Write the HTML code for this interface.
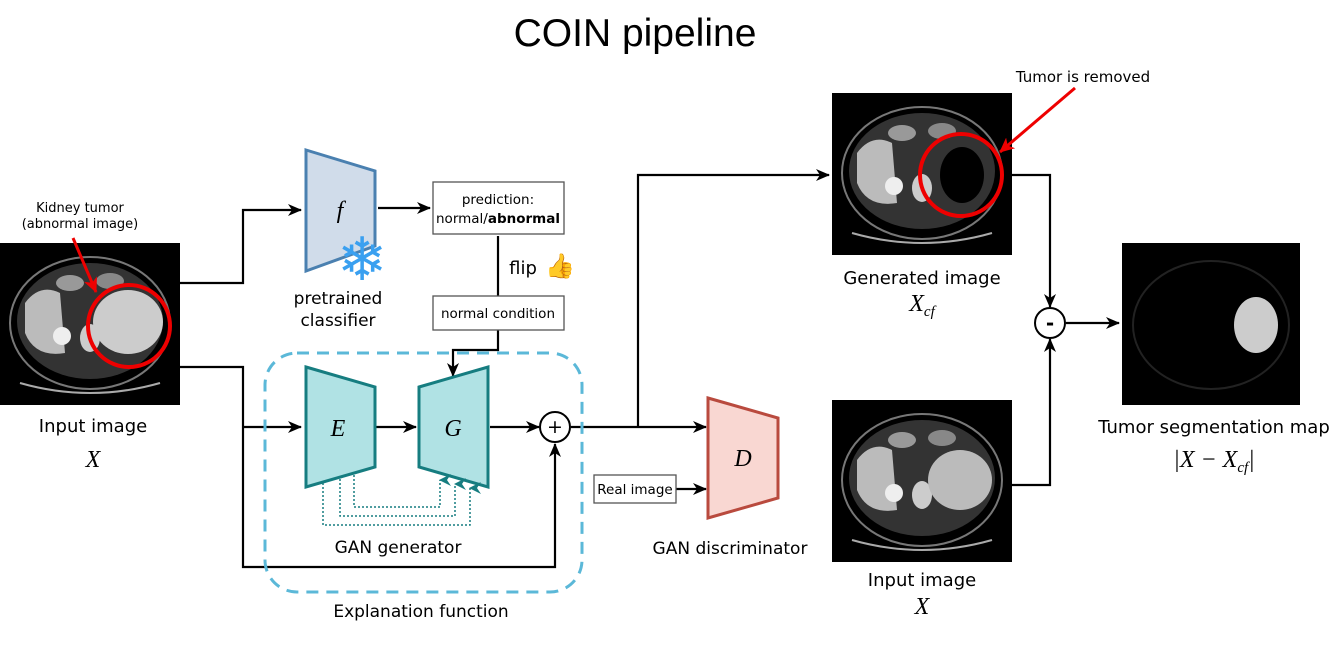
<!DOCTYPE html>
<html><head><style>
html,body{margin:0;padding:0;background:#fff;}
svg{display:block;}
text{font-family:"DejaVu Sans","Liberation Sans",sans-serif;fill:#000;}
.m{font-family:"Liberation Serif",serif;font-style:italic;}
</style></head><body>
<svg width="1340" height="647" viewBox="0 0 1340 647" xmlns="http://www.w3.org/2000/svg">
<defs>
<marker id="a" markerWidth="14" markerHeight="14" refX="13" refY="7" orient="auto" markerUnits="userSpaceOnUse"><path d="M0,1 L14,7 L0,13 L4,7z" fill="#000"/></marker>
<marker id="r" markerWidth="16" markerHeight="16" refX="14" refY="8" orient="auto" markerUnits="userSpaceOnUse"><path d="M0,1 L15,8 L0,15 L4,8z" fill="#e00"/></marker>
<marker id="t" markerWidth="12" markerHeight="12" refX="6" refY="1" orient="auto-start-reverse" markerUnits="userSpaceOnUse"><path d="M0,12 L6,0 L12,12 L6,8z" fill="#167d80"/></marker>
<g id="ct">
<rect x="0" y="0" width="180" height="162" fill="#000"/>
<ellipse cx="90" cy="80" rx="80" ry="66" fill="none" stroke="#777" stroke-width="2"/>
<ellipse cx="90" cy="78" rx="73" ry="58" fill="#333"/>
<path d="M25,60 Q40,40 60,50 L65,110 Q35,115 25,90z" fill="#bbb"/>
<circle cx="62" cy="93" r="9" fill="#eee"/>
<ellipse cx="90" cy="95" rx="10" ry="14" fill="#ccc"/>
<ellipse cx="70" cy="40" rx="14" ry="8" fill="#999"/>
<ellipse cx="110" cy="38" rx="14" ry="8" fill="#888"/>
<path d="M20,140 Q90,160 160,140" fill="none" stroke="#aaa" stroke-width="2"/>
</g>
</defs>
<text x="635" y="46" font-size="39" text-anchor="middle" style="font-family:'Liberation Sans',sans-serif">COIN pipeline</text>

<use href="#ct" x="0" y="243"/>
<ellipse cx="128" cy="322" rx="35" ry="32" fill="#ccc"/>
<circle cx="129" cy="326" r="41" fill="none" stroke="#e00" stroke-width="4"/>
<line x1="73" y1="238" x2="96" y2="292" stroke="#e00" stroke-width="3" marker-end="url(#r)"/>
<text x="80" y="212" font-size="13" text-anchor="middle">Kidney tumor</text>
<text x="80" y="228" font-size="13" text-anchor="middle">(abnormal image)</text>
<text x="93" y="432" font-size="18" text-anchor="middle">Input image</text>
<text x="93" y="467" font-size="24" text-anchor="middle" class="m">X</text>

<g fill="none" stroke="#000" stroke-width="2.2">
<polyline points="178,283 243,283 243,210 301,210" marker-end="url(#a)"/>
<polyline points="178,367 243,367 243,567 555,567 555,444" marker-end="url(#a)"/>
<polyline points="243,427 301,427" marker-end="url(#a)"/>
<polyline points="378,208 430,208" marker-end="url(#a)"/>
<polyline points="498,236 498,296"/>
<polyline points="498,330 498,350 453,350 453,376" marker-end="url(#a)"/>
<polyline points="376,427 416,427" marker-end="url(#a)"/>
<polyline points="490,427 539,427" marker-end="url(#a)"/>
<polyline points="571,427 706,427" marker-end="url(#a)"/>
<polyline points="638,427 638,175 829,175" marker-end="url(#a)"/>
<polyline points="676,489 706,489" marker-end="url(#a)"/>
<polyline points="1010,175 1050,175 1050,307" marker-end="url(#a)"/>
<polyline points="1010,485 1050,485 1050,339" marker-end="url(#a)"/>
<polyline points="1066,323 1119,323" marker-end="url(#a)"/>
</g>

<polygon points="306,150 375,171 375,246 306,271" fill="#d0dcea" stroke="#4a80b0" stroke-width="3"/>
<text x="340" y="218" font-size="24" text-anchor="middle" class="m">f</text>
<text x="362" y="280" font-size="60" text-anchor="middle" style="fill:#3aa0f0">❄</text>
<text x="338" y="304" font-size="17" text-anchor="middle">pretrained</text>
<text x="338" y="326" font-size="17" text-anchor="middle">classifier</text>

<rect x="433" y="182" width="131" height="52" fill="#fff" stroke="#555" stroke-width="1.3"/>
<text x="498" y="204" font-size="13.5" text-anchor="middle">prediction:</text>
<text x="498" y="223" font-size="13.5" text-anchor="middle">normal/<tspan font-weight="bold">abnormal</tspan></text>
<text x="523" y="274" font-size="18" text-anchor="middle">flip</text>
<text x="560" y="274" font-size="24" text-anchor="middle">👍</text>
<rect x="433" y="296" width="131" height="34" fill="#fff" stroke="#555" stroke-width="1.3"/>
<text x="498" y="318" font-size="13.5" text-anchor="middle">normal condition</text>

<rect x="265" y="353" width="317" height="239" rx="32" fill="none" stroke="#5bb8d8" stroke-width="3" stroke-dasharray="12,8"/>
<polygon points="306,367 375,387 375,467 306,487" fill="#b0e2e4" stroke="#167d80" stroke-width="3"/>
<polygon points="419,387 488,367 488,487 419,467" fill="#b0e2e4" stroke="#167d80" stroke-width="3"/>
<text x="338" y="436" font-size="24" text-anchor="middle" class="m">E</text>
<text x="453" y="436" font-size="24" text-anchor="middle" class="m">G</text>
<g fill="none" stroke="#167d80" stroke-width="1.5" stroke-dasharray="2,2">
<polyline points="354,475 354,507 440,507 440,480" marker-end="url(#t)"/>
<polyline points="340,479 340,516 455,516 455,484" marker-end="url(#t)"/>
<polyline points="323,483 323,525 470,525 470,488" marker-end="url(#t)"/>
</g>
<circle cx="555" cy="427" r="15" fill="#fff" stroke="#000" stroke-width="2"/>
<text x="555" y="433" font-size="19" text-anchor="middle">+</text>
<text x="398" y="553" font-size="17" text-anchor="middle">GAN generator</text>
<text x="421" y="617" font-size="17" text-anchor="middle">Explanation function</text>

<polygon points="708,398 778,418 778,498 708,518" fill="#f9d7d2" stroke="#b94a3e" stroke-width="3"/>
<text x="743" y="466" font-size="24" text-anchor="middle" class="m">D</text>
<rect x="594" y="475" width="82" height="28" fill="#fff" stroke="#555" stroke-width="1.3"/>
<text x="635" y="494" font-size="13.5" text-anchor="middle">Real image</text>
<text x="730" y="554" font-size="17" text-anchor="middle">GAN discriminator</text>

<use href="#ct" x="832" y="93"/>
<ellipse cx="962" cy="175" rx="22" ry="28" fill="#000"/>
<circle cx="961" cy="175" r="41" fill="none" stroke="#e00" stroke-width="4"/>
<line x1="1075" y1="88" x2="1000" y2="152" stroke="#e00" stroke-width="3" marker-end="url(#r)"/>
<text x="1083" y="82" font-size="15" text-anchor="middle">Tumor is removed</text>
<text x="922" y="284" font-size="18" text-anchor="middle">Generated image</text>
<text x="922" y="311" font-size="24" text-anchor="middle" class="m">X<tspan font-size="15" dy="5">cf</tspan></text>

<use href="#ct" x="832" y="400"/>
<ellipse cx="960" cy="480" rx="32" ry="30" fill="#bbb"/>
<text x="922" y="586" font-size="18" text-anchor="middle">Input image</text>
<text x="922" y="614" font-size="24" text-anchor="middle" class="m">X</text>

<circle cx="1050" cy="323" r="15" fill="#fff" stroke="#000" stroke-width="2"/>
<text x="1050" y="330" font-size="20" font-weight="bold" text-anchor="middle">-</text>

<rect x="1122" y="243" width="178" height="162" fill="#000"/>
<ellipse cx="1211" cy="325" rx="78" ry="64" fill="none" stroke="#222" stroke-width="2"/>
<ellipse cx="1256" cy="325" rx="22" ry="28" fill="#ccc"/>
<text x="1214" y="433" font-size="18" text-anchor="middle">Tumor segmentation map</text>
<text x="1214" y="467" font-size="24" text-anchor="middle" class="m">|X − X<tspan font-size="15" dy="5">cf</tspan><tspan dy="-5">|</tspan></text>
</svg>
</body></html>
